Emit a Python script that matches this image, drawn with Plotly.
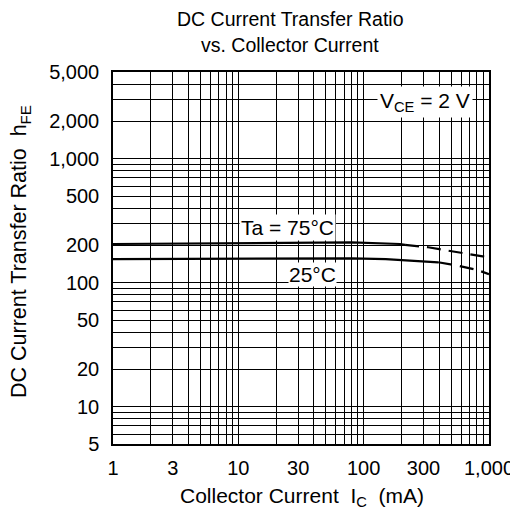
import plotly.graph_objects as go

# ---- data ----
ic_75_solid = [1, 10, 30, 80, 195, 214]
hfe_75_solid = [205, 207, 209, 211, 205, 202]
ic_75_dash = [214, 327, 490, 1000]
hfe_75_dash = [202, 193, 180, 160]

ic_25_solid = [1, 10, 80, 150, 265, 393]
hfe_25_solid = [155, 156, 157, 155, 150, 146]
ic_25_dash = [393, 567, 819, 1000]
hfe_25_dash = [146, 137, 126, 117]

x_tick_vals = [1, 3, 10, 30, 100, 300, 1000]
x_tick_text = ["1", "3", "10", "30", "100", "300", "1,000"]
y_tick_vals = [5, 10, 20, 50, 100, 200, 500, 1000, 2000, 5000]
y_tick_text = ["5", "10", "20", "50", "100", "200", "500", "1,000", "2,000", "5,000"]

x_grid = [d * 10 ** k for k in range(3) for d in range(1, 10)] + [1000]
y_grid = [d for d in range(5, 10)] + [d * 10 ** k for k in (1, 2) for d in range(1, 10)] + [d * 1000 for d in range(1, 6)]
x_minor = [v for v in x_grid if v not in x_tick_vals]
y_minor = [v for v in y_grid if v not in y_tick_vals]

FONT = "Arial, Liberation Sans, Helvetica, sans-serif"
FS_TICK = 20
FS_ANN = 21
FS_TITLE = 19.5

# page has an 8px body margin -> figure is offset by 8px
OFF = 8
PL, PR, PT, PB = 113, 489, 72, 444   # plot area in page pixels
W, H = 518 - OFF, 511 - OFF

fig = go.Figure()
line_solid = dict(color="black", width=2.2)
line_dash = dict(color="black", width=2.2, dash="14px,8px")
fig.add_trace(go.Scatter(x=ic_75_solid, y=hfe_75_solid, mode="lines", line=line_solid, hoverinfo="skip"))
fig.add_trace(go.Scatter(x=ic_75_dash, y=hfe_75_dash, mode="lines", line=line_dash, hoverinfo="skip"))
fig.add_trace(go.Scatter(x=ic_25_solid, y=hfe_25_solid, mode="lines", line=line_solid, hoverinfo="skip"))
fig.add_trace(go.Scatter(x=ic_25_dash, y=hfe_25_dash, mode="lines", line=line_dash, hoverinfo="skip"))

fig.update_layout(
    width=W, height=H,
    margin=dict(l=PL - OFF, r=W - (PR - OFF), t=PT - OFF, b=H - (PB - OFF), autoexpand=False),
    paper_bgcolor="white", plot_bgcolor="white",
    showlegend=False,
    font=dict(family=FONT, size=FS_TICK, color="black"),
)

fig.update_xaxes(
    type="log", range=[0, 3], automargin=False,
    tickmode="array", tickvals=x_tick_vals, ticktext=x_tick_text,
    showgrid=True, gridcolor="black", gridwidth=1,
    minor=dict(tickmode="array", tickvals=x_minor, showgrid=True, gridcolor="black", gridwidth=1, ticks=""),
    showline=True, linecolor="black", linewidth=1.5, mirror=True,
    ticks="", ticklabelstandoff=5, zeroline=False,
    tickfont=dict(size=FS_TICK, family=FONT, color="black"),
)
fig.update_yaxes(
    type="log", range=[0.69897, 3.69897], automargin=False,
    tickmode="array", tickvals=y_tick_vals, ticktext=y_tick_text,
    showgrid=True, gridcolor="black", gridwidth=1,
    minor=dict(tickmode="array", tickvals=y_minor, showgrid=True, gridcolor="black", gridwidth=1, ticks=""),
    showline=True, linecolor="black", linewidth=1.5, mirror=True,
    ticks="", ticklabelstandoff=8, zeroline=False,
    tickfont=dict(size=FS_TICK, family=FONT, color="black"),
)

ann_font = dict(size=FS_ANN, family=FONT, color="black")
title_font = dict(size=FS_TITLE, family=FONT, color="black")


def px(x):
    return (x - PL) / (PR - PL)


def py(y):
    return (PB - y) / (PB - PT)


# title (two lines)
fig.add_annotation(text="DC Current Transfer Ratio", xref="paper", yref="paper",
                   x=px(290), y=py(19), xanchor="center", yanchor="middle",
                   showarrow=False, font=title_font)
fig.add_annotation(text="vs. Collector Current", xref="paper", yref="paper",
                   x=px(290), y=py(45), xanchor="center", yanchor="middle",
                   showarrow=False, font=title_font)

fig.add_annotation(text="V<sub>CE</sub> = 2 V", xref="paper", yref="paper",
                   x=px(425), y=py(102), xanchor="center", yanchor="middle",
                   showarrow=False, bgcolor="white", borderpad=2, font=ann_font)
fig.add_annotation(text="Ta = 75°C", xref="paper", yref="paper",
                   x=px(287), y=py(228), xanchor="center", yanchor="middle",
                   showarrow=False, bgcolor="white", borderpad=1, font=ann_font)
fig.add_annotation(text="25°C", xref="paper", yref="paper",
                   x=px(312), y=py(274), xanchor="center", yanchor="middle",
                   showarrow=False, bgcolor="white", borderpad=0, font=ann_font)

fig.add_annotation(text="Collector Current  I<sub>C</sub>  (mA)", xref="paper", yref="paper",
                   x=px(302), y=py(497), xanchor="center", yanchor="middle",
                   showarrow=False, font=ann_font)
fig.add_annotation(text="DC Current Transfer Ratio  h<sub>FE</sub>", xref="paper", yref="paper",
                   x=px(20), y=py(252), xanchor="center", yanchor="middle",
                   textangle=-90, showarrow=False, font=dict(size=21.5, family=FONT, color="black"))

fig.write_html("out.html")
